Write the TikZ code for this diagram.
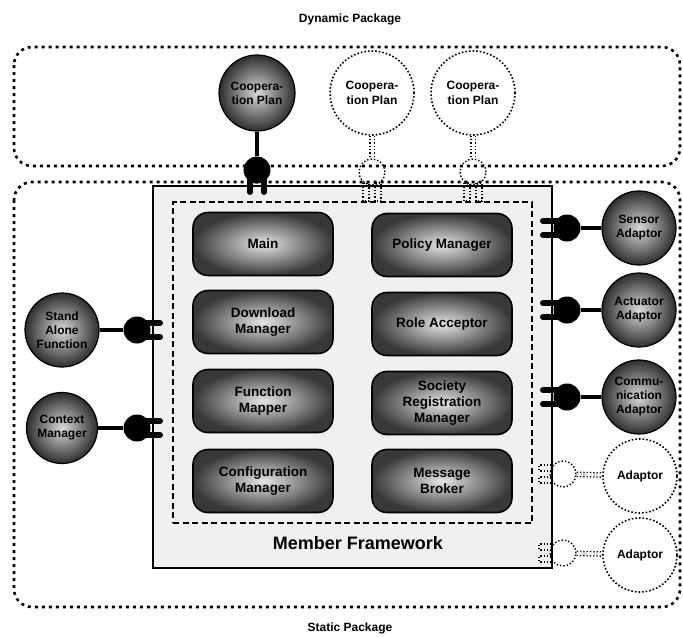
\documentclass[tikz,border=0pt]{standalone}
\usepackage{fontspec}
\setmainfont{Liberation Sans}
\begin{document}
\begin{tikzpicture}[x=1pt,y=-1pt,
  pkg/.style={draw, line width=2.6pt, dash pattern=on 3pt off 4pt, rounded corners=18pt},
  title/.style={font=\bfseries\fontsize{12}{14}\selectfont},
  framebox/.style={draw, line width=1.6pt, fill=gray!12, minimum width=399pt, minimum height=382pt, inner sep=0pt},
  corebox/.style={draw, line width=2pt, dash pattern=on 6pt off 3.5pt, minimum width=359pt, minimum height=321pt, inner sep=0pt},
  module/.style={draw, line width=1.6pt, rounded corners=15pt, minimum width=140pt, minimum height=63pt, inner sep=2pt, inner color=gray!20, outer color=black!78, align=center, font=\bfseries\fontsize{13.5}{16}\selectfont},
  ball/.style={circle, draw, line width=1.2pt, minimum size=74pt, inner sep=0pt, inner color=gray!30, outer color=black!82, align=center, font=\bfseries\fontsize{12}{14}\selectfont},
  ghost/.style={circle, draw, line width=1.6pt, dotted, minimum size=84pt, inner sep=0pt, align=center, font=\bfseries\fontsize{12}{15}\selectfont},
  plugbody/.style={circle, fill=black, minimum size=27pt, inner sep=0pt},
  ghostplug/.style={circle, draw, dotted, line width=1.4pt, minimum size=26pt, inner sep=0pt},
  prong/.style={line width=6pt, line cap=round},
  ghostprong/.style={dotted, line width=1.3pt},
  stem/.style={line width=4.5pt},
  ghoststem/.style={dotted, line width=1.3pt, double=white, double distance=3pt}
]
\useasboundingbox (0,0) rectangle (683,637);

% packages
\draw[pkg] (14,47) rectangle (680,166);
\draw[pkg] (14,182) rectangle (680,607);
\node[title] (dyn) at (350,19) {Dynamic Package};
\node[title] (stat) at (350,628) {Static Package};

% member framework
\node[framebox] (frame) at (352.5,377) {};
\node[corebox] (core) at (352.5,362.5) {};
\node[font=\bfseries\fontsize{18}{20}\selectfont] (mf) at (358,543) {Member Framework};

% modules
\node[module] (main) at (263,244) {Main};
\node[module] (dl)   at (263,322) {Download\\Manager};
\node[module] (fm)   at (263,401) {Function\\Mapper};
\node[module] (cfg)  at (263,481) {Configuration\\Manager};
\node[module] (pol)  at (442,245) {Policy Manager};
\node[module] (role) at (442,324) {Role Acceptor};
\node[module] (soc)  at (442,403) {Society\\Registration\\Manager};
\node[module] (msg)  at (442,481) {Message\\Broker};

% dynamic components
\node[ball, minimum size=76pt] (coop1) at (257,93) {Coopera-\\tion Plan};
\node[ghost] (coop2) at (372,93) {Coopera-\\tion Plan};
\node[ghost] (coop3) at (473,93) {Coopera-\\tion Plan};

% right components
\node[ball] (sensor) at (639,228) {Sensor\\Adaptor};
\node[ball] (act) at (639,310) {Actuator\\Adaptor};
\node[ball] (comm) at (639,397) {Commu-\\nication\\Adaptor};
\node[ghost, minimum size=74pt] (ad1) at (640,476) {Adaptor};
\node[ghost, minimum size=74pt] (ad2) at (640,555) {Adaptor};

% left components
\node[ball] (stand) at (62,330) {Stand\\Alone\\Function};
\node[ball, minimum size=71pt] (ctx) at (62,428) {Context\\Manager};

% plugs
\node[plugbody] (pTop) at (257,170) {};
\draw[prong] (pTop.center) +(-7,10) -- +(-7,22) +(7,10) -- +(7,22);
\node[ghostplug] (pG2) at (372,172) {};
\draw[ghostprong] (pG2.center) +(-9,11) rectangle +(-3,29) +(3,11) rectangle +(9,29);
\node[ghostplug] (pG3) at (473,172) {};
\draw[ghostprong] (pG3.center) +(-9,11) rectangle +(-3,29) +(3,11) rectangle +(9,29);

\node[plugbody] (pS) at (567,228) {};
\draw[prong] (pS.center) +(-10,-7) -- +(-24,-7) +(-10,7) -- +(-24,7);
\node[plugbody] (pA) at (567,310) {};
\draw[prong] (pA.center) +(-10,-7) -- +(-24,-7) +(-10,7) -- +(-24,7);
\node[plugbody] (pC) at (567,397) {};
\draw[prong] (pC.center) +(-10,-7) -- +(-24,-7) +(-10,7) -- +(-24,7);
\node[ghostplug] (pAd1) at (563,474) {};
\draw[ghostprong] (pAd1.center) +(-11,-9) rectangle +(-24,-3) +(-11,3) rectangle +(-24,9);
\node[ghostplug] (pAd2) at (563,553) {};
\draw[ghostprong] (pAd2.center) +(-11,-9) rectangle +(-24,-3) +(-11,3) rectangle +(-24,9);

\node[plugbody] (pSA) at (137,330) {};
\draw[prong] (pSA.center) +(10,-7) -- +(23,-7) +(10,7) -- +(23,7);
\node[plugbody] (pCM) at (137,428) {};
\draw[prong] (pCM.center) +(10,-7) -- +(23,-7) +(10,7) -- +(23,7);

% stems
\draw[stem] (coop1) -- (pTop);
\draw[ghoststem] (coop2) -- (pG2);
\draw[ghoststem] (coop3) -- (pG3);
\draw[stem] (pS) -- (sensor);
\draw[stem] (pA) -- (act);
\draw[stem] (pC) -- (comm);
\draw[ghoststem] (pAd1) -- (ad1);
\draw[ghoststem] (pAd2) -- (ad2);
\draw[stem] (stand) -- (pSA);
\draw[stem] (ctx) -- (pCM);
\end{tikzpicture}
\end{document}
